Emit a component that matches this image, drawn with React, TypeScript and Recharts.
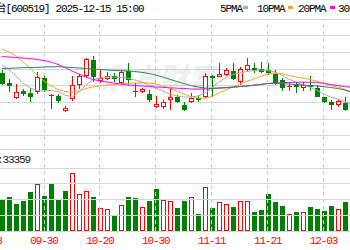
import React from "react";
import { ComposedChart, Bar, Line, XAxis, YAxis, ReferenceLine } from "recharts";

// trading days, 09-18 .. 12-09 (the part of the K-line that is on screen)
const DATES = [
  "09-18", "09-19", "09-22", "09-23", "09-24", "09-25", "09-26", "09-29", "09-30",
  "10-09", "10-10", "10-13", "10-14", "10-15", "10-16", "10-17", "10-20", "10-21",
  "10-22", "10-23", "10-24", "10-27", "10-28", "10-29", "10-30", "10-31",
  "11-03", "11-04", "11-05", "11-06", "11-07", "11-10", "11-11", "11-12", "11-13",
  "11-14", "11-17", "11-18", "11-19", "11-20", "11-21", "11-24", "11-25", "11-26",
  "11-27", "11-28", "12-01", "12-02", "12-03", "12-04", "12-05", "12-08", "12-09",
];

const OPEN = [
  null, null, 1455.8, 1443.2, 1424.8, 1433.6, 1431.8, 1432.4, 1449.8, 1427.2, 1427.0,
  1409.6, 1423.4, 1440.8, 1451.0, 1470.8, 1445.6, 1448.2, 1451.6, 1443.2, 1457.0,
  1432.0, 1432.4, 1430.4, 1414.0, 1414.0, 1422.8, 1426.0, 1416.8, 1420.8, 1424.8,
  1426.0, 1451.6, 1450.8, 1452.8, 1458.0, 1444.8, 1458.8, 1461.8, 1460.0, 1458.8,
  1454.4, 1446.8, 1438.6, 1440.8, 1437.2, 1441.2, 1437.4, 1426.4, 1420.8, 1416.8,
  1419.2, 1410.0,
];
const HIGH = [
  null, null, 1458.2, 1448.0, 1442.0, 1436.6, 1437.2, 1456.4, 1451.6, 1430.0, 1430.6,
  1415.6, 1451.6, 1454.0, 1473.2, 1475.6, 1458.8, 1456.8, 1455.2, 1458.8, 1467.2,
  1442.8, 1437.2, 1434.8, 1427.6, 1422.8, 1437.2, 1428.8, 1420.8, 1430.8, 1428.8,
  1454.8, 1452.8, 1466.8, 1461.6, 1466.8, 1462.0, 1472.8, 1467.8, 1468.4, 1467.6,
  1458.8, 1448.8, 1442.8, 1442.8, 1444.8, 1451.2, 1440.8, 1426.8, 1422.2, 1424.6,
  1426.8, 1412.0,
];
const LOW = [
  null, null, 1440.2, 1432.4, 1424.4, 1427.6, 1420.4, 1430.0, 1432.4, 1412.0, 1419.2,
  1408.4, 1421.0, 1436.0, 1449.2, 1444.8, 1443.8, 1446.8, 1444.4, 1440.8, 1440.8,
  1426.8, 1431.2, 1420.8, 1412.8, 1412.0, 1410.8, 1419.2, 1410.0, 1419.6, 1420.8,
  1424.8, 1426.0, 1450.0, 1451.6, 1446.8, 1440.8, 1456.8, 1455.8, 1455.2, 1452.8,
  1440.8, 1434.0, 1434.0, 1431.2, 1434.0, 1433.6, 1426.0, 1418.8, 1410.8, 1414.4,
  1410.0, 1391.6,
];
const CLOSE = [
  null, null, 1442.2, 1439.0, 1432.8, 1430.6, 1426.0, 1450.4, 1434.2, 1428.2, 1421.4,
  1413.2, 1440.2, 1451.6, 1471.6, 1450.8, 1448.8, 1451.6, 1447.4, 1456.8, 1446.8,
  1433.0, 1435.4, 1422.4, 1417.6, 1420.8, 1426.0, 1420.8, 1410.8, 1424.8, 1422.8,
  1451.6, 1448.8, 1454.4, 1458.2, 1448.0, 1460.4, 1464.8, 1457.6, 1456.4, 1454.8,
  1442.8, 1436.8, 1439.6, 1438.0, 1440.8, 1438.4, 1426.8, 1420.4, 1416.2, 1421.6,
  1410.8, 1394.0,
];

const MA5 = [
  null, null, 1464.8, 1458.8, 1451.6, 1443.2, 1437.2, 1434.2, 1433.6, 1434.2, 1433.0,
  1428.8, 1426.4, 1432.4, 1440.8, 1446.8, 1449.2, 1450.4, 1450.4, 1449.8, 1449.2,
  1446.8, 1444.4, 1440.8, 1437.2, 1433.6, 1430.0, 1427.6, 1426.4, 1426.4, 1427.6,
  1430.8, 1437.2, 1444.4, 1449.8, 1453.4, 1455.2, 1457.0, 1458.2, 1458.8, 1458.2,
  1456.4, 1452.8, 1448.0, 1444.4, 1440.8, 1438.4, 1434.8, 1430.0, 1426.4, 1424.0,
  1421.0, 1418.0,
];
const MA10 = [
  null, null, 1484.0, 1480.4, 1475.6, 1468.4, 1461.2, 1452.8, 1445.6, 1439.6, 1435.4,
  1433.0, 1431.8, 1433.6, 1436.6, 1438.4, 1439.6, 1440.8, 1441.4, 1442.0, 1442.8,
  1443.2, 1443.4, 1443.2, 1442.0, 1439.6, 1436.6, 1433.6, 1430.0, 1427.0, 1425.2,
  1424.8, 1427.0, 1431.2, 1434.8, 1438.4, 1442.0, 1445.0, 1448.0, 1451.0, 1454.0,
  1455.2, 1454.6, 1452.2, 1450.4, 1449.2, 1447.4, 1445.6, 1443.2, 1440.2, 1438.4,
  1436.0, 1432.4,
];
const MA20 = [
  null, null, 1475.0, 1474.4, 1473.8, 1473.2, 1472.6, 1471.4, 1470.2, 1468.4, 1465.4,
  1461.8, 1457.6, 1454.0, 1450.4, 1447.4, 1445.6, 1444.4, 1443.2, 1442.0, 1440.8,
  1440.2, 1439.6, 1439.0, 1438.4, 1438.0, 1437.4, 1437.0, 1436.6, 1436.0, 1435.8,
  1436.0, 1436.6, 1437.2, 1437.8, 1438.4, 1439.0, 1439.6, 1440.4, 1441.4, 1442.6,
  1443.2, 1443.6, 1443.8, 1444.0, 1444.2, 1444.0, 1443.8, 1442.8, 1441.4, 1440.2,
  1439.0, 1437.8,
];
const MA30 = [
  null, null, 1460.6, 1460.8, 1461.2, 1461.6, 1461.8, 1462.0, 1462.4, 1462.6, 1462.8,
  1462.4, 1461.8, 1461.2, 1460.6, 1460.0, 1459.4, 1458.8, 1458.4, 1458.0, 1457.6,
  1457.0, 1456.0, 1454.6, 1452.8, 1450.4, 1447.6, 1445.0, 1442.6, 1440.2, 1438.4,
  1437.2, 1436.8, 1437.0, 1437.4, 1438.0, 1438.8, 1439.6, 1440.6, 1441.6, 1442.6,
  1442.8, 1442.6, 1442.0, 1441.4, 1440.8, 1440.2, 1439.6, 1438.8, 1437.8, 1436.6,
  1434.8, 1432.4,
];

// volume (lots) and whether the day closed up (red hollow bar)
const VOLUME = [
  null, null, 39550, 43770, 34070, 38280, 50150, 59590, 44660, 61630, 40830,
  51040, 73630, 47210, 51040, 43000, 28970, 27690, 20420, 32790, 43380,
  41730, 30620, 38280, 53590, 39170, 38280, 28970, 38280, 43000, 21310,
  55760, 29730, 36620, 34450, 30240, 37900, 37900, 23860, 26410, 47210,
  36620, 31520, 21690, 23860, 24630, 30240, 27690, 25520, 32280, 27690,
  36620, 46830,
];
const VOLUME_UP = [
  null, null, 0, 0, 0, 0, 0, 1, 0, 0, 0,
  0, 1, 1, 1, 0, 1, 1, 0, 1, 0,
  0, 1, 0, 0, 1, 1, 0, 0, 1, 0,
  1, 0, 1, 1, 0, 1, 1, 0, 0, 0,
  0, 0, 1, 0, 1, 0, 0, 0, 0, 1,
  0, 0,
];

const PRICE_GRID = [1520, 1500, 1480, 1460, 1440, 1420, 1400, 1380];
const PANEL_LINE = 1364;
const VOL_GRID = [0, 20000, 40000, 60000, 80000];

const RED = "#ff0000";
const GREEN = "#008000";
const MA_COLORS = { ma5: "#aaaaaa", ma10: "#f5a623", ma20: "#ff00ff", ma30: "#2d8659" };

// layout of the picture
const PLOT_TOP = 19;
const PLOT_BOTTOM = 231;
const VOL_TOP = 168.3;
const HEIGHT = 250;
const BAND = 6.99;
const FIRST_CENTER = 44 - 8 * BAND; // 09-30 sits at x=44
const SVG_LEFT = -16;
const MARGIN_LEFT = FIRST_CENTER - BAND / 2 - SVG_LEFT;
const CHART_W = Math.ceil(MARGIN_LEFT + DATES.length * BAND);
const MARGIN_RIGHT = CHART_W - MARGIN_LEFT - DATES.length * BAND;
const PRICE_MAX = 1520;
const PRICE_MIN = PRICE_MAX - (PLOT_BOTTOM - PLOT_TOP) * 1.2;
const VOL_DOMAIN_MAX = 80000 * (PLOT_BOTTOM - PLOT_TOP) / (PLOT_BOTTOM - VOL_TOP);

const rows = DATES.map((date, i) => ({
  date,
  open: OPEN[i],
  high: HIGH[i],
  low: LOW[i],
  close: CLOSE[i],
  vol: VOLUME[i],
  volUp: VOLUME_UP[i] === 1,
  ma5: MA5[i],
  ma10: MA10[i],
  ma20: MA20[i],
  ma30: MA30[i],
}));

const LABEL_DATES = DATES.filter((_, i) => i % 8 === 0);

const TEXT_FONT = "'Liberation Mono', 'Noto Sans CJK SC', monospace";

const Candle = (props: any) => {
  const { x, y, width, height, payload } = props;
  if (payload == null || payload.high == null) return null;
  const { open, close, high, low } = payload;
  const top = Math.min(y, y + height);
  const span = Math.abs(height);
  const toY = (v: number) => top + ((high - v) / (high - low)) * span;
  const cx = Math.round(x + width / 2);
  const left = cx - 2;
  const up = close >= open;
  const color = up ? RED : GREEN;
  const bodyTop = Math.round(toY(Math.max(open, close)));
  const bodyBot = Math.round(toY(Math.min(open, close)));
  const wickTop = Math.round(top);
  const wickBot = Math.round(top + span);
  let body;
  if (bodyBot - bodyTop < 2) {
    body = <rect x={left} y={bodyTop} width={5} height={1} fill={color} />;
  } else if (up) {
    body = (
      <rect x={left + 0.5} y={bodyTop + 0.5} width={4} height={bodyBot - bodyTop - 1}
        fill="#fff" stroke={RED} strokeWidth={1} />
    );
  } else {
    body = <rect x={left} y={bodyTop} width={5} height={bodyBot - bodyTop} fill={GREEN} />;
  }
  return (
    <g>
      <line x1={cx + 0.5} x2={cx + 0.5} y1={wickTop} y2={bodyTop} stroke={color} />
      <line x1={cx + 0.5} x2={cx + 0.5} y1={bodyBot} y2={wickBot} stroke={color} />
      {body}
    </g>
  );
};

const VolumeBar = (props: any) => {
  const { x, y, width, height, payload } = props;
  if (payload == null || payload.vol == null) return null;
  const cx = Math.round(x + width / 2);
  const left = cx - 2;
  const top = Math.round(y);
  const bottom = Math.round(y + height);
  if (payload.volUp) {
    return (
      <rect x={left + 0.5} y={top + 0.5} width={4} height={Math.max(bottom - top - 1, 0)}
        fill="#fff" stroke={RED} strokeWidth={1} />
    );
  }
  return <rect x={left} y={top} width={5} height={bottom - top} fill={GREEN} />;
};

const App: React.FC = () => {
  return (
    <div style={{ position: "fixed", left: 0, top: 0, width: 350, height: 250, overflow: "hidden", background: "#fff" }}>
      {/* grid, date axis and volume */}
      <div style={{ position: "absolute", left: SVG_LEFT, top: 0 }}>
        <ComposedChart
          width={CHART_W}
          height={HEIGHT}
          data={rows}
          barCategoryGap="10%"
          margin={{ top: PLOT_TOP, right: MARGIN_RIGHT, bottom: 0, left: MARGIN_LEFT }}
        >
          <XAxis
            dataKey="date"
            interval={7}
            height={HEIGHT - PLOT_BOTTOM}
            tickLine={false}
            axisLine={false}
            tickSize={4}
            tickMargin={1}
            tick={{ fill: RED, fontSize: 11, fontFamily: TEXT_FONT, letterSpacing: -1.1 }}
          />
          <YAxis yAxisId="price" hide type="number" domain={[PRICE_MIN, PRICE_MAX]} allowDataOverflow />
          <YAxis yAxisId="vol" hide type="number" domain={[0, VOL_DOMAIN_MAX]} allowDataOverflow />
          {LABEL_DATES.map((d) => (
            <ReferenceLine key={"v" + d} x={d} yAxisId="vol" stroke="#cccccc" strokeDasharray="4 3"
              shapeRendering="crispEdges" />
          ))}
          {PRICE_GRID.map((p) => (
            <ReferenceLine key={"p" + p} y={p} yAxisId="price" stroke="#d6d6d6" shapeRendering="crispEdges" />
          ))}
          <ReferenceLine y={PANEL_LINE} yAxisId="price" stroke="#d6d6d6" shapeRendering="crispEdges" />
          {VOL_GRID.map((v) => (
            <ReferenceLine key={"g" + v} y={v} yAxisId="vol" stroke="#d6d6d6" shapeRendering="crispEdges" />
          ))}
          <Bar yAxisId="vol" dataKey="vol" shape={VolumeBar} isAnimationActive={false} />
        </ComposedChart>
      </div>

      {/* watermark */}
      <div
        style={{
          position: "absolute",
          left: 102,
          top: 62,
          fontFamily: "'Noto Sans CJK SC'",
          fontWeight: 900,
          fontSize: 29,
          letterSpacing: 1,
          lineHeight: 1,
          color: "rgba(0,0,0,0.08)",
          transform: "skewX(-12deg)",
          whiteSpace: "nowrap",
        }}
      >
        东方财富
      </div>

      {/* candles and moving averages */}
      <div style={{ position: "absolute", left: SVG_LEFT, top: 0 }}>
        <ComposedChart
          width={CHART_W}
          height={HEIGHT}
          data={rows}
          barCategoryGap="10%"
          margin={{ top: PLOT_TOP, right: MARGIN_RIGHT, bottom: HEIGHT - PLOT_BOTTOM, left: MARGIN_LEFT }}
        >
          <XAxis dataKey="date" hide />
          <YAxis yAxisId="price" hide type="number" domain={[PRICE_MIN, PRICE_MAX]} allowDataOverflow />
          <Bar
            yAxisId="price"
            dataKey={(d: any) => (d.high == null ? null : [d.low, d.high])}
            shape={Candle}
            isAnimationActive={false}
          />
          <Line yAxisId="price" dataKey="ma5" stroke={MA_COLORS.ma5} strokeWidth={1} dot={false} isAnimationActive={false} />
          <Line yAxisId="price" dataKey="ma10" stroke={MA_COLORS.ma10} strokeWidth={1} dot={false} isAnimationActive={false} />
          <Line yAxisId="price" dataKey="ma20" stroke={MA_COLORS.ma20} strokeWidth={1} dot={false} isAnimationActive={false} />
          <Line yAxisId="price" dataKey="ma30" stroke={MA_COLORS.ma30} strokeWidth={1} dot={false} isAnimationActive={false} />
        </ComposedChart>
      </div>

      {/* title, legend and volume caption */}
      <svg width={350} height={250} style={{ position: "absolute", left: 0, top: 0 }}>
        <g fontFamily={TEXT_FONT} fontSize={11} letterSpacing={-1.1} fill="#000">
          <text x={49.5} y={11.5} textAnchor="end">贵州茅台[600519]</text>
          <text x={55.5} y={11.5}>2025-12-15 15:00</text>
          <text x={220} y={11.5}>5PMA</text>
          <text x={257} y={11.5}>10PMA</text>
          <text x={298} y={11.5}>20PMA</text>
          <text x={338} y={11.5}>30PMA</text>
          <text x={30} y={163} textAnchor="end" fill="#222">成交量:33359</text>
        </g>
        <rect x={243} y={6} width={5} height={3} fill={MA_COLORS.ma5} />
        <rect x={288} y={6} width={5} height={3} fill={MA_COLORS.ma10} />
        <rect x={330} y={6} width={5} height={3} fill={MA_COLORS.ma20} />
      </svg>
    </div>
  );
};

export default App;
